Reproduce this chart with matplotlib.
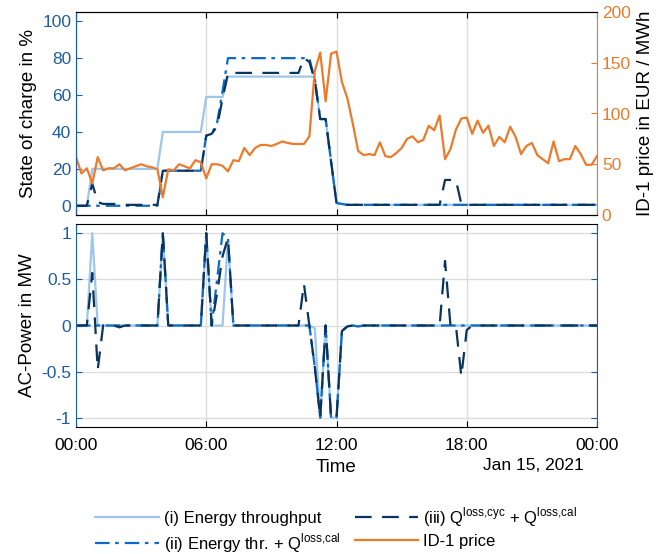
import numpy as np
import pandas as pd
import matplotlib
matplotlib.use("Agg")
import matplotlib.pyplot as plt
import matplotlib.dates as mdates

plt.rcParams['font.family'] = ['Liberation Sans', 'DejaVu Sans']
plt.rcParams['mathtext.fontset'] = 'custom'
plt.rcParams['mathtext.rm'] = 'Liberation Sans'
plt.rcParams['lines.scale_dashes'] = False

# ---------------- data (15-min resolution, 97 points) ----------------
time = pd.date_range("2021-01-15 00:00", "2021-01-16 00:00", freq="15min")

soc_i = [0, 0, 0, 20, 20, 20, 20, 20, 20, 20, 20, 20, 20, 20, 20, 20,
         40, 40, 40, 40, 40, 40, 40, 40, 59, 59, 59, 59, 70, 70, 70, 70,
         70, 70, 70, 70, 70, 70, 70, 70, 70, 70, 70, 70, 70, 47, 47, 24,
         1.5, 1, 0.5, 0.5, 0.5, 0.5, 0.5, 0.5, 0.5, 0.5, 0.5, 0.5, 0.5, 0.5, 0.5, 0.5,
         0.5, 0.5, 0.5, 0.5, 0.5, 0.5, 0.5, 0.5, 0.5, 0.5, 0.5, 0.5, 0.5, 0.5, 0.5, 0.5,
         0.5, 0.5, 0.5, 0.5, 0.5, 0.5, 0.5, 0.5, 0.5, 0.5, 0.5, 0.5, 0.5, 0.5, 0.5, 0.5, 0.5]
soc_ii = [0, 0, 0, 0, 0, 0, 0, 0, 0, 0, 0, 0, 0, 0, 0, 0,
          19, 19, 19, 19, 19, 19, 19, 19, 38, 39, 45, 62, 80, 80, 80, 80,
          80, 80, 80, 80, 80, 80, 80, 80, 80, 80, 80, 80, 68, 47, 47, 24,
          1.5, 1, 0.5, 0.5, 0.5, 0.5, 0.5, 0.5, 0.5, 0.5, 0.5, 0.5, 0.5, 0.5, 0.5, 0.5,
          0.5, 0.5, 0.5, 0.5, 0.5, 0.5, 0.5, 0.5, 0.5, 0.5, 0.5, 0.5, 0.5, 0.5, 0.5, 0.5,
          0.5, 0.5, 0.5, 0.5, 0.5, 0.5, 0.5, 0.5, 0.5, 0.5, 0.5, 0.5, 0.5, 0.5, 0.5, 0.5, 0.5]
soc_iii = [0, 0, 0, 12, 2, 1, 1, 1, 1, 0.5, 0.5, 0.5, 0.5, 0.5, 0.5, 0.5,
           19, 19, 19, 19, 19, 19, 19, 19, 38, 39, 43, 58, 72, 72, 72, 72,
           72, 72, 72, 72, 72, 72, 72, 72, 72, 72, 80, 78, 68, 47, 47, 24,
           1.5, 1, 0.5, 0.5, 0.5, 0.5, 0.5, 0.5, 0.5, 0.5, 0.5, 0.5, 0.5, 0.5, 0.5, 0.5,
           0.5, 0.5, 0.5, 0.5, 14, 14, 14, 1, 0.5, 0.5, 0.5, 0.5, 0.5, 0.5, 0.5, 0.5,
           0.5, 0.5, 0.5, 0.5, 0.5, 0.5, 0.5, 0.5, 0.5, 0.5, 0.5, 0.5, 0.5, 0.5, 0.5, 0.5, 0.5]

price = [57, 41, 46, 31, 57, 44, 46, 46, 50, 44, 46, 48, 50, 48, 47, 45,
         17.5, 45, 44, 50, 48, 46, 54, 52, 36, 50, 50, 48.5, 43, 54, 53, 66,
         59, 66, 69, 69, 68, 70, 72.5, 71, 70, 70, 70, 77.5, 142, 160, 112, 159,
         161, 131, 115, 90, 63, 59, 60, 59, 71.6, 58, 57, 61, 66, 75, 77.5, 71.6,
         74, 88, 83.5, 98, 55, 65, 84, 95, 96, 80, 93, 81, 88, 68, 77, 71.6,
         87, 77, 60, 68, 71, 59, 55, 51, 72.5, 53, 55, 55, 68, 60, 49.5, 49.5, 58]

zeros16 = [0] * 16
p_i = ([0, 0, 0, 1.0, 0, 0, 0, 0, 0, 0, 0, 0, 0, 0, 0, 0,
        1.0, 0, 0, 0, 0, 0, 0, 0, 1.0, 0, 0, 0, 0.93, 0, 0, 0,
        0, 0, 0, 0, 0, 0, 0, 0, 0, 0, 0, 0, -0.03, -1.0, 0, -1.0,
        -1.0, -0.06, -0.01, 0, -0.01, 0, 0, 0, 0, 0, 0, 0, 0, 0, 0, 0]
       + zeros16 + zeros16 + [0])
p_ii = ([0, 0, 0, 0, 0, 0, 0, 0, 0, 0, 0, 0, 0, 0, 0, 0,
         1.0, 0, 0, 0, 0, 0, 0, 0, 1.0, 0, 0.5, 1.0, 0.95, 0, 0, 0,
         0, 0, 0, 0, 0, 0, 0, 0, 0, 0, 0, 0, -0.45, -1.0, 0, -1.0,
         -1.0, -0.06, -0.01, 0, -0.01, 0, 0, 0, 0, 0, 0, 0, 0, 0, 0, 0]
        + zeros16 + zeros16 + [0])
p_iii = ([0, 0, 0, 0.57, -0.48, 0, 0, 0, -0.02, 0, 0, 0, 0, 0, 0, 0,
          1.0, 0, 0, 0, 0, 0, 0, 0, 1.0, 0, 0.35, 0.75, 0.95, 0, 0, 0,
          0, 0, 0, 0, 0, 0, 0, 0, 0, 0, 0.45, 0, -0.45, -1.0, 0, -1.0,
          -1.0, -0.06, -0.01, 0, -0.01, 0, 0, 0, 0, 0, 0, 0, 0, 0, 0, 0,
          0, 0, 0, 0, 0.7, 0, 0, -0.55, -0.05, 0, 0, 0, 0, 0, 0, 0]
         + zeros16 + [0])

labels = ["(i) Energy throughput",
          r"(ii) Energy thr. + Q$^{\mathrm{loss{,}cal}}$",
          r"(iii) Q$^{\mathrm{loss{,}cyc}}$ + Q$^{\mathrm{loss{,}cal}}$",
          "ID-1 price"]

# ---------------- style ----------------
c_light = '#9CC6EC'
c_mid = '#0B6BC6'
c_dark = '#0A345E'
c_orange = '#EC7A2B'
c_tick = '#1E5E9E'
c_grid = '#DCDCDC'
lw = 1.6
dashdot = (0, (10.5, 4.0, 2.6, 4.3))
dashed = (0, (12.0, 7.5))

fig = plt.figure(figsize=(6.66, 5.54), dpi=100)
ax1 = fig.add_axes([76/666, 1-215/554, (597-76)/666, (215-12)/554])
ax2 = fig.add_axes([76/666, 1-427/554, (597-76)/666, (427-224)/554], sharex=ax1)
axr = ax1.twinx()

ax1.plot(time, soc_i, color=c_light, lw=lw, label=labels[0])
ax1.plot(time, soc_ii, color=c_mid, lw=lw, linestyle=dashdot, label=labels[1])
ax1.plot(time, soc_iii, color=c_dark, lw=lw, linestyle=dashed, label=labels[2])
axr.plot(time, price, color=c_orange, lw=lw, label=labels[3])

ax2.plot(time, p_i, color=c_light, lw=lw)
ax2.plot(time, p_ii, color=c_mid, lw=lw, linestyle=dashdot)
ax2.plot(time, p_iii, color=c_dark, lw=lw, linestyle=dashed)

ax1.set_ylim(-5, 105)
ax1.set_yticks([0, 20, 40, 60, 80, 100])
axr.set_ylim(0, 200)
axr.set_yticks([0, 50, 100, 150, 200])
ax2.set_ylim(-1.1, 1.1)
ax2.set_yticks([-1, -0.5, 0, 0.5, 1])
ax2.set_yticklabels(['-1', '-0.5', '0', '0.5', '1'])

ax1.set_xlim(time[0], time[-1])
ax2.xaxis.set_major_locator(mdates.HourLocator(byhour=[0, 6, 12, 18]))
ax2.xaxis.set_major_formatter(mdates.DateFormatter('%H:%M'))

fs = 12.5
for ax in (ax1, ax2):
    ax.tick_params(axis='x', direction='in', top=True, bottom=True, length=4,
                   labelsize=fs, color='black', pad=8)
    ax.tick_params(axis='y', direction='in', length=4, labelsize=fs,
                   colors=c_tick)
    ax.spines['top'].set_color('black')
    ax.spines['bottom'].set_color('black')
    ax.spines['left'].set_color(c_tick)
    ax.grid(True, axis='x', color=c_grid, lw=1.0)
    ax.set_axisbelow(True)
ax1.tick_params(axis='x', labelbottom=False)
ax1.spines['right'].set_visible(False)
ax2.tick_params(axis='y', right=True)
ax2.spines['right'].set_color(c_tick)
ax2.grid(True, axis='y', color=c_grid, lw=1.0)

axr.tick_params(axis='y', direction='in', length=4, labelsize=fs,
                colors=c_orange)
axr.spines['right'].set_color(c_orange)
axr.spines['left'].set_color(c_tick)
axr.spines['top'].set_color('black')
axr.spines['bottom'].set_color('black')

ax1.set_ylabel("State of charge in %", fontsize=13.5, color='black', labelpad=4)
ax2.set_ylabel("AC-Power in MW", fontsize=13.5, color='black', labelpad=4)
axr.set_ylabel("ID-1 price in EUR / MWh", fontsize=13.5, color='black', labelpad=4)
ax2.set_xlabel("Time", fontsize=13.5, labelpad=4)
fig.text(533/666, 1-466/554, "Jan 15, 2021", fontsize=12.5, ha='center', va='center')

handles = ax1.get_lines() + axr.get_lines()
fig.legend(handles, labels, ncol=2, loc='upper center',
           bbox_to_anchor=(0.505, 0.115), frameon=False, fontsize=12,
           handlelength=3.8, columnspacing=0.9, handletextpad=0.3,
           labelspacing=0.3)

fig.savefig("out.png", dpi=100)
